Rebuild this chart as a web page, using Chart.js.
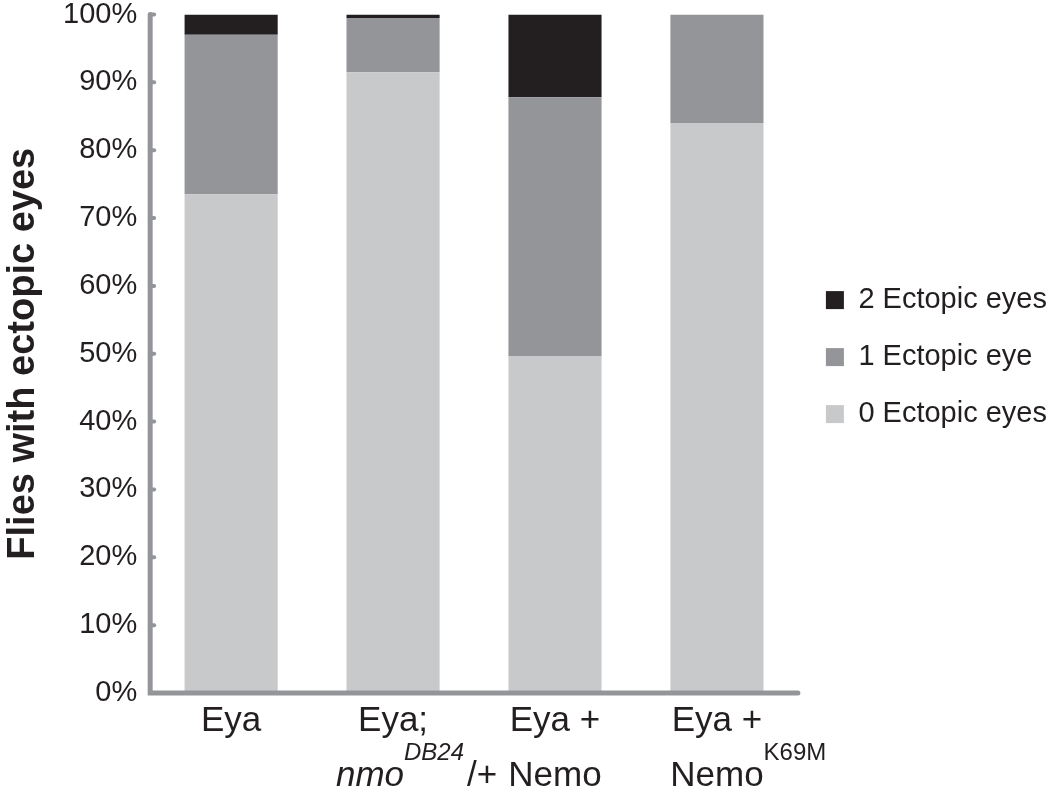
<!DOCTYPE html>
<html>
<head>
<meta charset="utf-8">
<script src="https://cdn.jsdelivr.net/npm/chart.js@4.4.0/dist/chart.umd.min.js"></script>
<style>
  html, body { margin: 0; padding: 0; background: #fff; }
  #wrap { width: 1050px; height: 800px; position: relative; }
</style>
</head>
<body>
<div id="wrap"><canvas id="chart"></canvas></div>
<script>
// categories (x axis)
const categories = ['Eya', 'Eya; nmoDB24/+', 'Eya + Nemo', 'Eya + NemoK69M'];

// label text, split in two lines; line 2 has italic / superscript pieces
const labelLine1 = ['Eya', 'Eya;', 'Eya +', 'Eya +'];
const labelLine2 = [
    [],
    [{ t: 'nmo', it: true }, { t: 'DB24', it: true, sup: true }, { t: '/+' }],
    [{ t: 'Nemo' }],
    [{ t: 'Nemo' }, { t: 'K69M', sup: true }]
];

// percentages of flies per class
const zeroEyes = [73.5, 91.5, 49.6, 84.0];
const oneEye = [23.5, 8.0, 38.2, 16.0];
const twoEyes = [3.0, 0.5, 12.2, 0.0];

const yTicks = [0, 10, 20, 30, 40, 50, 60, 70, 80, 90, 100];

const FONT = "'Liberation Sans', Arial, Helvetica, sans-serif";
const TEXT = '#231f20';
const AXIS = '#939598';

// draws axes with round caps, inside tick marks and the x labels
const figurePlugin = {
    id: 'figure',
    afterDatasetsDraw(chart) {
        const ctx = chart.ctx;
        const area = chart.chartArea;
        const x = chart.scales.x;
        const y = chart.scales.y;

        ctx.save();
        ctx.strokeStyle = AXIS;
        ctx.lineWidth = 5;
        ctx.lineCap = 'round';
        ctx.beginPath();
        ctx.moveTo(area.left, y.getPixelForValue(100));
        ctx.lineTo(area.left, y.getPixelForValue(0));
        ctx.lineTo(area.right, y.getPixelForValue(0));
        ctx.stroke();

        ctx.lineWidth = 4;
        yTicks.forEach(v => {
            const py = y.getPixelForValue(v);
            ctx.beginPath();
            ctx.moveTo(area.left, py);
            ctx.lineTo(area.left + 4, py);
            ctx.stroke();
        });

        ctx.fillStyle = TEXT;
        ctx.textBaseline = 'middle';
        ctx.textAlign = 'left';
        const mainSize = 35;
        const supSize = 24;
        const y1 = area.bottom + 28;
        const y2 = area.bottom + 83;

        categories.forEach((c, i) => {
            const cx = x.getPixelForValue(i);
            ctx.font = mainSize + 'px ' + FONT;
            const w1 = ctx.measureText(labelLine1[i]).width;
            ctx.fillText(labelLine1[i], cx - w1 / 2, y1);

            // measure line 2, center it on the non-superscript text
            const parts = labelLine2[i].map(p => {
                ctx.font = (p.it ? 'italic ' : '') + (p.sup ? supSize : mainSize) + 'px ' + FONT;
                return { p: p, w: ctx.measureText(p.t).width };
            });
            const baseW = parts.filter(q => !q.p.sup).reduce((s, q) => s + q.w, 0);
            let px = cx - baseW / 2 - (i === 1 ? 8 : 0);
            parts.forEach(q => {
                ctx.font = (q.p.it ? 'italic ' : '') + (q.p.sup ? supSize : mainSize) + 'px ' + FONT;
                ctx.fillText(q.p.t, px, q.p.sup ? y2 - 23 : y2);
                px += q.w + (q.p.sup ? 3 : 0);
            });
        });
        ctx.restore();
    }
};

const ctx = document.getElementById('chart').getContext('2d');
new Chart(ctx, {
    type: 'bar',
    data: {
        labels: categories,
        datasets: [
            { label: '0 Ectopic eyes', data: zeroEyes, backgroundColor: '#c8c9cb' },
            { label: '1 Ectopic eye', data: oneEye, backgroundColor: '#939598' },
            { label: '2 Ectopic eyes', data: twoEyes, backgroundColor: '#231f20' }
        ]
    },
    options: {
        responsive: true,
        maintainAspectRatio: false,
        animation: false,
        layout: { padding: { top: 0, bottom: 99, left: 5, right: -7 } },
        datasets: { bar: { categoryPercentage: 1, barPercentage: 0.575 } },
        scales: {
            x: {
                stacked: true,
                grid: { display: false },
                border: { display: false },
                ticks: { display: false }
            },
            y: {
                stacked: true,
                min: 0,
                max: 100,
                grid: { display: false, drawTicks: true, tickLength: 13 },
                border: { display: false },
                ticks: {
                    stepSize: 10,
                    padding: 0,
                    color: TEXT,
                    font: { family: FONT, size: 29, lineHeight: 1 },
                    callback: v => v + '%'
                },
                title: {
                    display: true,
                    text: 'Flies with ectopic eyes',
                    color: TEXT,
                    font: { family: FONT, size: 38, weight: 'bold', lineHeight: 1 },
                    padding: { top: 0, bottom: 20 }
                }
            }
        },
        plugins: {
            tooltip: { enabled: false },
            legend: {
                position: 'right',
                reverse: true,
                title: { display: true, text: '', font: { size: 1 }, padding: { top: 12, bottom: 0 } },
                labels: {
                    boxWidth: 18,
                    boxHeight: 18,
                    padding: 28,
                    color: TEXT,
                    font: { family: FONT, size: 29 }
                }
            }
        }
    },
    plugins: [figurePlugin]
});
</script>
</body>
</html>
